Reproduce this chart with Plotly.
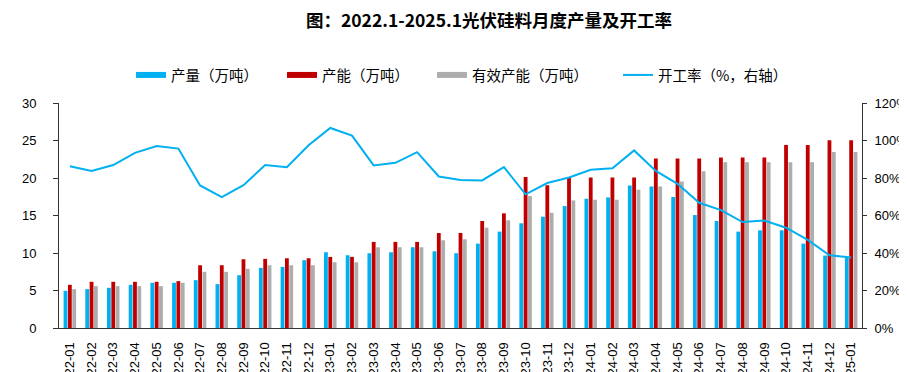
import plotly.graph_objects as go

months = [f"{y}-{m:02d}" for y in (2022, 2023, 2024) for m in range(1, 13)] + ["2025-01"]

output = [4.96, 5.18, 5.36, 5.76, 6.03, 6.03, 6.38, 5.85, 7.04, 8.02, 8.15, 9.04,
          10.10, 9.70, 9.97, 10.10, 10.77, 10.23, 9.97, 11.25, 12.85, 13.96, 14.84, 16.26,
          17.24, 17.41, 19.00, 18.87, 17.46, 15.06, 14.27, 12.85, 13.03, 13.03, 11.25, 9.66,
          9.48]
capacity = [5.76, 6.16, 6.16, 6.16, 6.16, 6.25, 8.37, 8.37, 9.17, 9.22, 9.30, 9.30,
            9.48, 9.48, 11.48, 11.48, 11.48, 12.67, 12.67, 14.27, 15.29, 20.12, 19.05, 20.12,
            20.07, 20.07, 20.07, 22.60, 22.60, 22.60, 22.73, 22.73, 22.73, 24.41, 24.41, 25.03,
            25.03]
eff_capacity = [5.18, 5.58, 5.58, 5.58, 5.58, 6.03, 7.49, 7.49, 7.89, 8.37, 8.37, 8.37,
                8.77, 8.77, 10.77, 10.77, 10.77, 11.70, 11.83, 13.38, 14.36, 17.59, 15.37, 17.01,
                17.10, 17.10, 18.43, 18.87, 19.54, 20.91, 22.11, 22.11, 22.11, 22.11, 22.11, 23.48,
                23.48]
util_rate = [86.3, 83.7, 86.9, 93.4, 97.1, 95.7, 76.0, 69.8, 76.2, 86.9, 85.8, 97.5,
             106.7, 102.6, 86.7, 88.1, 93.8, 80.8, 78.9, 78.7, 85.8, 71.3, 77.3, 80.3,
             84.4, 85.2, 94.7, 83.8, 76.9, 66.8, 62.9, 56.5, 57.3, 53.5, 47.0, 38.8,
             37.6]

left_ticks = [0, 5, 10, 15, 20, 25, 30]
right_ticks = [0, 20, 40, 60, 80, 100, 120]
right_tick_text = [f"{v}%" for v in right_ticks]

series_names = ["产量（万吨）", "产能（万吨）", "有效产能（万吨）", "开工率（%，右轴）"]
title_text = "图：2022.1-2025.1光伏硅料月度产量及开工率"

BLUE = "#00B0F0"
RED = "#C00000"
GREY = "#ADADAD"

cjk = "Noto Sans CJK SC"
num_font = "Liberation Sans, Arial, sans-serif"

fig = go.Figure()
bar_colors = [BLUE, RED, GREY]
for name, vals, col in zip(series_names[:3], [output, capacity, eff_capacity], bar_colors):
    fig.add_trace(go.Bar(x=months, y=vals, name=name, showlegend=False,
                         marker=dict(color=col, line=dict(width=0))))
fig.add_trace(go.Scatter(x=months, y=util_rate, name=series_names[3], mode="lines",
                         line=dict(color=BLUE, width=2), yaxis="y2", showlegend=False))

# legend entries (wide rectangular swatches like the original)
legend_ids = ["legend", "legend2", "legend3", "legend4"]
for name, col, lg, w in zip(series_names, bar_colors + [BLUE], legend_ids, [6, 6, 6, 2]):
    fig.add_trace(go.Scatter(x=[None], y=[None], name=name, mode="lines",
                             line=dict(color=col, width=w), legend=lg, showlegend=True,
                             yaxis="y2" if lg == "legend4" else "y"))

leg_x = [0.0897, 0.2777, 0.4645, 0.6961]
leg_common = dict(orientation="h", xanchor="left", y=1.1244, yanchor="middle",
                  font=dict(family=cjk, size=14.5, color="#000000"),
                  itemwidth=30, bgcolor="rgba(0,0,0,0)", borderwidth=0)

layout_legends = {lg: dict(x=x, **leg_common) for lg, x in zip(legend_ids, leg_x)}

fig.update_layout(
    width=899, height=364,
    margin=dict(l=51, r=45, t=95, b=44),
    paper_bgcolor="white", plot_bgcolor="white",
    barmode="group", bargap=0.4, bargroupgap=0.12,
    title=dict(text=title_text, x=0.535, xanchor="center", y=0.9657, yanchor="middle",
               font=dict(family=cjk, size=17.5, color="#000000", weight="bold")),
    xaxis=dict(type="category", tickangle=-90, automargin=False, showline=True,
               linecolor="#333333", linewidth=1, ticks="", showgrid=False,
               ticklabelstandoff=8,
               tickfont=dict(family=num_font, size=13, color="#000000")),
    yaxis=dict(range=[0, 30], tickvals=left_ticks, showgrid=False, showline=True,
               linecolor="#333333", linewidth=1, ticks="outside", ticklen=5,
               tickcolor="#333333", zeroline=False, automargin=False, ticklabelstandoff=14,
               tickfont=dict(family=num_font, size=13, color="#000000")),
    yaxis2=dict(range=[0, 120], tickvals=right_ticks, ticktext=right_tick_text,
                overlaying="y", side="right", showgrid=False, showline=True,
                linecolor="#333333", linewidth=1, ticks="outside", ticklen=4,
                tickcolor="#333333", zeroline=False, automargin=False, ticklabelstandoff=5,
                tickfont=dict(family=num_font, size=13, color="#000000")),
    **layout_legends,
)

fig.write_html("out.html")
